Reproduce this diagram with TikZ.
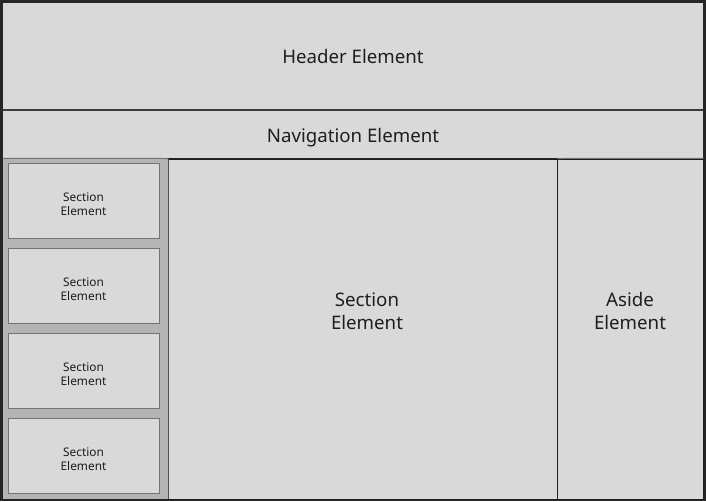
\documentclass[tikz,border=0pt]{standalone}
\usepackage{fontspec}
\setmainfont{Noto Sans}
\definecolor{framedark}{HTML}{262626}
\definecolor{paneltone}{HTML}{D9D9D9}
\definecolor{columntone}{HTML}{B4B4B4}
\definecolor{boxedge}{HTML}{737373}
\definecolor{inktone}{HTML}{1E1E1E}
\tikzset{
    panel/.style={fill=paneltone, inner sep=0pt},
    smallsec/.style={panel, draw=boxedge, line width=0.75pt, minimum width=113.25pt, minimum height=56.25pt},
    smalltext/.style={align=center, font=\fontsize{8.9}{10.6}\selectfont, text=inktone},
    bigtext/.style={align=center, font=\fontsize{14}{17}\selectfont, text=inktone}
}

\begin{document}
\begin{tikzpicture}[x=0.75pt,y=-0.75pt]
    \fill[framedark] (0,0) rectangle (706,501);
    \node[panel, minimum width=525pt, minimum height=80.25pt] (header) at (353,56.5) {};
    \node[panel, minimum width=525pt, minimum height=35.25pt] (nav) at (353,134.5) {};
    \draw[draw=framedark!90, line width=1.5pt] (header.south west) -- (header.south east);
    \node[fill=columntone, inner sep=0pt, minimum width=123.75pt, minimum height=255pt] (column) at (85.5,329) {};
    \node[panel, draw=inktone, line width=0.75pt, minimum width=291.75pt, minimum height=255pt] (main) at (362.5,329) {};
    \node[panel, draw=inktone, line width=0.75pt, minimum width=109.5pt, minimum height=255pt] (aside) at (630,329) {};
    \draw[draw=boxedge, line width=0.75pt] (nav.south west) -- (main.north west);
    \draw[draw=boxedge, line width=0.75pt] (main.north east) -- (nav.south east);
    \draw[draw=framedark!80, line width=0.75pt] (column.north east) -- (column.south east);
    \node[bigtext] (headertext) at (353,56.5) {Header Element};
    \node[bigtext] (navtext) at (353,137.5) {Navigation Element};
    \node[bigtext] (maintext) at (367,311) {Section\\Element};
    \node[bigtext] (asidetext) at (630,311) {Aside\\Element};
    \foreach \y [count=\i] in {200.5,285.5,370.5,455.5}{
        \node[smallsec] (sec\i) at (83.5,\y) {};
        \node[smalltext] (sectext\i) at (83.5,\y+3.5) {Section\\Element};
    }
\end{tikzpicture}
\end{document}
